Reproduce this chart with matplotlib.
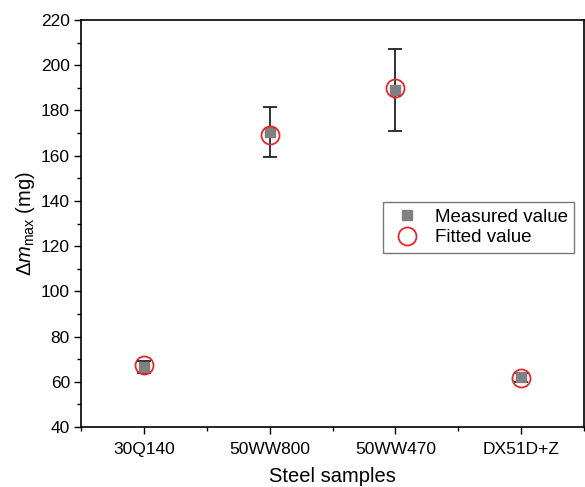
import matplotlib
matplotlib.use("Agg")
import matplotlib.pyplot as plt
from matplotlib.ticker import MultipleLocator, FixedLocator

plt.rcParams['font.family'] = ['Liberation Sans', 'DejaVu Sans']
plt.rcParams['mathtext.fontset'] = 'custom'
plt.rcParams['mathtext.rm'] = 'Liberation Sans'
plt.rcParams['mathtext.it'] = 'Liberation Sans:italic'

samples = ["30Q140", "50WW800", "50WW470", "DX51D+Z"]
measured = [66.5, 170.5, 189.0, 62.0]
measured_err = [2.5, 11.0, 18.3, 2.0]
fitted = [67.3, 169.3, 190.0, 61.5]

fig = plt.figure(figsize=(5.85, 4.87), dpi=100)
ax = fig.add_axes([81/585, 60/487, 503/585, 407/487])

x = list(range(1, len(samples) + 1))
ax.errorbar(x, measured, yerr=measured_err, fmt='none', ecolor='#222222',
            elinewidth=1.3, capsize=5, capthick=1.3, zorder=2)
ax.plot(x, measured, 's', color='#808080', markersize=7.5, zorder=3,
        label='Measured value', linestyle='none')
ax.plot(x, fitted, 'o', markerfacecolor='none', markeredgecolor='#e0282e',
        markersize=13, markeredgewidth=1.3, zorder=4, label='Fitted value',
        linestyle='none')

ax.set_xlim(0.5, 4.5)
ax.set_ylim(40, 220)
ax.xaxis.set_major_locator(FixedLocator(x))
ax.set_xticklabels(samples)
ax.xaxis.set_minor_locator(FixedLocator([0.5, 1.5, 2.5, 3.5, 4.5]))
ax.yaxis.set_major_locator(MultipleLocator(20))
ax.yaxis.set_minor_locator(MultipleLocator(10))
ax.tick_params(axis='both', which='major', direction='out', length=5, width=1,
               labelsize=12.5, pad=3)
ax.tick_params(axis='x', which='major', pad=6)
ax.tick_params(axis='both', which='minor', direction='out', length=3, width=1)
for s in ax.spines.values():
    s.set_linewidth(1.2)

ax.set_xlabel('Steel samples', fontsize=14.5, labelpad=7)
ax.set_ylabel(r'$\Delta\mathit{m}_{\mathrm{max}}$ (mg)', fontsize=14.5, labelpad=3)

leg = ax.legend(loc='upper left', bbox_to_anchor=(0.601, 0.553), fontsize=13.5,
                frameon=True, fancybox=False, edgecolor='#555555',
                handletextpad=0.6, borderpad=0.35, labelspacing=0.2,
                handlelength=1.8, borderaxespad=0)
leg.get_frame().set_linewidth(1.0)

fig.savefig('out.png', dpi=100)
